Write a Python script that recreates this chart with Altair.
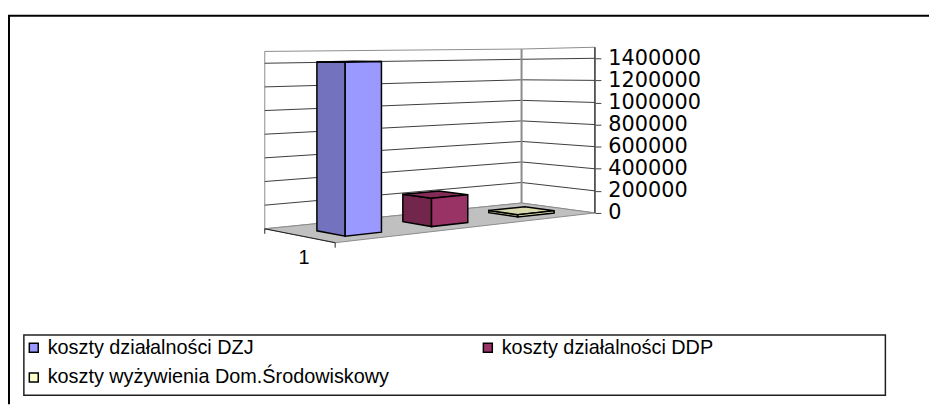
import altair as alt
import pandas as pd

# ---------------- data ----------------
SERIES = [
    "koszty działalności DZJ",
    "koszty działalności DDP",
    "koszty wyżywienia Dom.Środowiskowy",
]
VALUES = [1410000, 240000, 20000]
COLORS = ["#9999FF", "#993366", "#FFFFCC"]
CATEGORIES = ["1"]
TICKS = [0, 200000, 400000, 600000, 800000, 1000000, 1200000, 1400000]

# ---------------- 3-D look (style / geometry constants) ----------------
W, H = 929, 392          # view size
OX, OY = 8, 14           # page offset of the view
FLOOR = {"BL": (267, 229), "BR": (526, 203), "FL": (338, 243), "FR": (600, 213)}
KPX = {"BL": 167, "BR": 145, "FL": 180, "FR": 156}   # px per KREF at each floor corner
KREF = 1400000
WALL_TOP = 1500000
BAR_A = (0.32, 0.74)
BAR_D = (0.35, 0.75)
K_AX = KPX["FR"] / KREF


def proj(a, d, v):
    w = {"BL": (1 - a) * (1 - d), "BR": a * (1 - d), "FL": (1 - a) * d, "FR": a * d}
    x = sum(w[c] * FLOOR[c][0] for c in w)
    y = sum(w[c] * FLOOR[c][1] for c in w)
    k = sum(w[c] * KPX[c] for c in w) / KREF
    return x, y - v * k


def yv(py):
    return (FLOOR["FR"][1] - py) / K_AX


def shade(hexcol, f):
    h = hexcol.lstrip("#")
    r, g, b = (int(h[i:i + 2], 16) for i in (0, 2, 4))
    return "#%02x%02x%02x" % (int(r * f), int(g * f), int(b * f))


def poly_rows(pts, key, extra):
    xs = sorted(set(round(p[0], 4) for p in pts))
    rows = []
    n = len(pts)
    for xv in xs:
        ys = []
        for i in range(n):
            p, q = pts[i], pts[(i + 1) % n]
            if abs(p[0] - q[0]) < 1e-9:
                if abs(xv - p[0]) < 1e-3:
                    ys += [p[1], q[1]]
            else:
                t = (xv - p[0]) / (q[0] - p[0])
                if -1e-6 <= t <= 1 + 1e-6:
                    ys.append(p[1] + t * (q[1] - p[1]))
        r = {"face": key, "x": xv - OX, "y": yv(min(ys)), "y2": yv(max(ys))}
        r.update(extra)
        rows.append(r)
    return rows


xs = alt.Scale(domain=[0, W], nice=False, zero=False)
ys = alt.Scale(domain=[yv(OY + H), yv(OY)], nice=False, zero=False)

# walls and floor
bg = []
bg += poly_rows([proj(0, 0, 0), proj(1, 0, 0), proj(1, 0, WALL_TOP), proj(0, 0, WALL_TOP)], "back", {"fill": "#FFFFFF"})
bg += poly_rows([proj(1, 0, 0), proj(1, 1, 0), proj(1, 1, WALL_TOP), proj(1, 0, WALL_TOP)], "side", {"fill": "#FFFFFF"})
bg += poly_rows([proj(0, 0, 0), proj(0, 1, 0), proj(1, 1, 0), proj(1, 0, 0)], "floor", {"fill": "#C0C0C0"})
df_bg = pd.DataFrame(bg)

# gridlines and axis lines
lines = []


def seg(p, q, color, sw):
    lines.append({"x": p[0] - OX, "y": yv(p[1]), "x2": q[0] - OX, "y2": yv(q[1]), "color": color, "sw": sw})


for v in TICKS[1:]:
    seg(proj(0, 0, v), proj(1, 0, v), "#3c3c3c", 1)
    seg(proj(1, 0, v), proj(1, 1, v), "#3c3c3c", 1)
seg(proj(1, 0, 0), proj(1, 0, WALL_TOP), "#8c8c8c", 2)
seg(proj(1, 1, 0), proj(1, 1, WALL_TOP), "#404040", 1.5)
seg(proj(0, 0, 0), proj(0, 1, 0), "#202020", 1)
for dd in (0, 1):
    p = proj(0, dd, 0)
    seg(p, (p[0], p[1] + 5), "#202020", 1)
df_lines = pd.DataFrame(lines)

# bars
sides, fronts = [], []
for i, (s, v, c) in enumerate(zip(SERIES, VALUES, COLORS)):
    a0, a1 = (i + BAR_A[0]) / len(SERIES), (i + BAR_A[1]) / len(SERIES)
    d0, d1 = BAR_D
    sides += poly_rows([proj(a0, d0, 0), proj(a0, d1, 0), proj(a0, d1, v), proj(a0, d0, v)],
                       f"side{i}", {"fill": shade(c, 0.75)})
    sides += poly_rows([proj(a0, d0, v), proj(a1, d0, v), proj(a1, d1, v), proj(a0, d1, v)],
                       f"top{i}", {"fill": shade(c, 0.85)})
    fronts += poly_rows([proj(a0, d1, 0), proj(a1, d1, 0), proj(a1, d1, v), proj(a0, d1, v)],
                        f"front{i}", {"series": s})
df_side = pd.DataFrame(sides)
df_front = pd.DataFrame(fronts)

cp = proj(0, 0.5, 0)
df_cat = pd.DataFrame({"x": [cp[0] - OX], "y": [yv(cp[1])], "label": CATEGORIES})

X = lambda f: alt.X(f, scale=xs, axis=None)
Y = lambda f: alt.Y(f, scale=ys, axis=None)

walls = alt.Chart(df_bg).mark_area(orient="vertical", stroke="#8c8c8c", strokeWidth=1).encode(
    x=X("x:Q"), y=Y("y:Q"), y2="y2:Q",
    fill=alt.Fill("fill:N", scale=None), detail="face:N",
)

grid = alt.Chart(df_lines).mark_rule().encode(
    x=X("x:Q"),
    y=alt.Y("y:Q", scale=ys, axis=alt.Axis(
        orient="right", offset=-(W - (FLOOR["FR"][0] - OX)), values=TICKS, format="d",
        domain=False, grid=False, ticks=True, tickSize=6, tickColor="#404040",
        labelFont="DejaVu Sans", labelFontSize=21, labelColor="black", labelPadding=7,
        title=None)),
    x2="x2:Q", y2="y2:Q",
    color=alt.Color("color:N", scale=None),
    strokeWidth=alt.StrokeWidth("sw:Q", scale=None),
)

side_faces = alt.Chart(df_side).mark_area(orient="vertical", stroke="black", strokeWidth=1.5).encode(
    x=X("x:Q"), y=Y("y:Q"), y2="y2:Q",
    fill=alt.Fill("fill:N", scale=None), detail="face:N",
)

front_faces = alt.Chart(df_front).mark_area(orient="vertical", stroke="black", strokeWidth=1.5).encode(
    x=X("x:Q"), y=Y("y:Q"), y2="y2:Q",
    color=alt.Color("series:N", scale=alt.Scale(domain=SERIES, range=COLORS), legend=alt.Legend(
        orient="none", legendX=16, legendY=325, columns=2, direction="horizontal", title=None,
        symbolType="square", symbolSize=81, symbolStrokeColor="black", symbolStrokeWidth=1.5,
        symbolOpacity=1, labelFont="Liberation Sans", labelFontSize=20, labelLimit=600,
        labelColor="black", labelOffset=4, columnPadding=89, rowPadding=10, padding=0)),
    detail="face:N",
)

cat_text = alt.Chart(df_cat).mark_text(font="Liberation Sans", fontSize=20, dy=22, dx=4, color="black").encode(
    x=X("x:Q"), y=Y("y:Q"), text="label:N"
)

one = pd.DataFrame({"k": [0]})
frame_top = alt.Chart(one).mark_rule(color="black", strokeWidth=2).encode(
    x=alt.value(0), x2=alt.value(W), y=alt.value(0))
frame_left = alt.Chart(one).mark_rule(color="black", strokeWidth=2).encode(
    x=alt.value(1), y=alt.value(0), y2=alt.value(H))
legend_box = alt.Chart(one).mark_rect(fill=None, stroke="#202020", strokeWidth=1.5).encode(
    x=alt.value(16), x2=alt.value(885), y=alt.value(322), y2=alt.value(383))

chart = alt.layer(
    walls, grid, side_faces, front_faces, cat_text, frame_top, frame_left, legend_box
).resolve_axis(y="independent", x="independent").properties(
    width=W, height=H, autosize=alt.AutoSizeParams(type="none"),
    padding={"left": 0, "top": 6, "right": 0, "bottom": 0},
    background="white",
).configure_view(stroke=None)

chart.save("out.html", embed_options={"renderer": "svg", "actions": False})
